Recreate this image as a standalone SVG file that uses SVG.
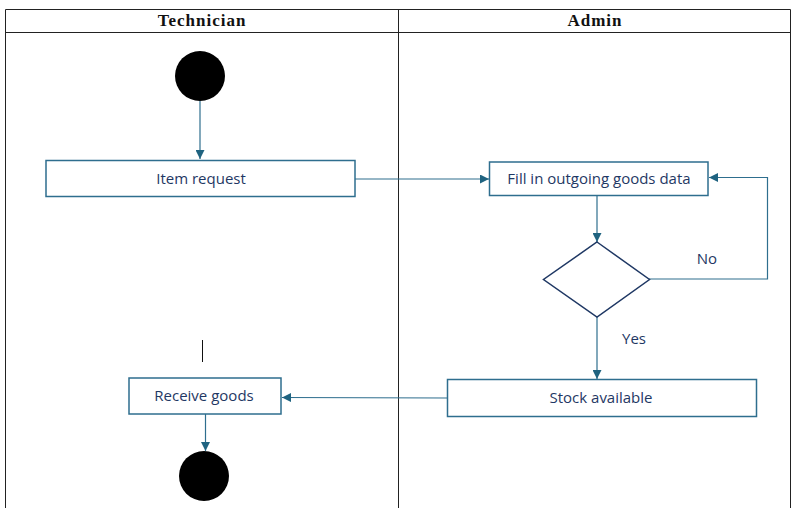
<svg xmlns="http://www.w3.org/2000/svg" width="794" height="508" viewBox="0 0 794 508">
<defs>
<style>
.lane{fill:none;stroke:#222;stroke-width:1}
.hdr{font-family:"Liberation Serif",serif;font-weight:bold;font-size:17px;letter-spacing:1px;fill:#111;text-anchor:middle}
.box{fill:#fff;stroke:#2E6E8E;stroke-width:1.5}
.lbl{font-family:"Open Sans","Noto Sans",sans-serif;font-size:15px;fill:#1F3864;text-anchor:middle}
.con{fill:none;stroke:#2E6E8E;stroke-width:1.2}
.dia{fill:#fff;stroke:#1F3864;stroke-width:1.5}
</style>
<marker id="ah" viewBox="0 0 10 10" refX="10" refY="5" markerWidth="9" markerHeight="9" markerUnits="userSpaceOnUse" orient="auto">
<path d="M0,0 L10,5 L0,10 Z" fill="#1F6380"/>
</marker>
</defs>
<rect width="794" height="508" fill="#fff"/>
<g id="lanes">
<path class="lane" d="M5.5,508 V9.5 H790.5 V508 M5.5,32.5 H790.5 M398.5,9.5 V508"/>
<text class="hdr" x="202" y="26">Technician</text>
<text class="hdr" x="595" y="26">Admin</text>
</g>
<g id="connectors">
<line class="con" x1="200" y1="101" x2="200" y2="159" marker-end="url(#ah)"/>
<line class="con" x1="355" y1="179" x2="489" y2="179" marker-end="url(#ah)"/>
<line class="con" x1="597" y1="196" x2="597" y2="242" marker-end="url(#ah)"/>
<polyline class="con" points="649,279 767.5,279 767.5,177.5 709,177.5" marker-end="url(#ah)"/>
<line class="con" x1="597" y1="317" x2="597" y2="379" marker-end="url(#ah)"/>
<line class="con" x1="447" y1="398" x2="282" y2="397.5" marker-end="url(#ah)"/>
<line class="con" x1="205.5" y1="414" x2="205.5" y2="451" marker-end="url(#ah)"/>
<line x1="202.5" y1="340" x2="202.5" y2="362" stroke="#111" stroke-width="1"/>
<text class="lbl" x="707" y="264">No</text>
<text class="lbl" x="634" y="344">Yes</text>
</g>
<g id="start"><circle cx="200" cy="76" r="25" fill="#000"/></g>
<g id="item-request">
<rect class="box" x="46" y="160.5" width="309" height="36"/>
<text class="lbl" x="201" y="184">Item request</text>
</g>
<g id="fill-data">
<rect class="box" x="489.5" y="162" width="218.5" height="33.5"/>
<text class="lbl" x="599" y="184">Fill in outgoing goods data</text>
</g>
<g id="decision">
<polygon class="dia" points="597,242 649.5,279.5 597,317 543.5,279.5"/>
</g>
<g id="stock-available">
<rect class="box" x="447.5" y="379.5" width="309" height="37"/>
<text class="lbl" x="601" y="403">Stock available</text>
</g>
<g id="receive-goods">
<rect class="box" x="129" y="378" width="152" height="36"/>
<text class="lbl" x="204" y="401">Receive goods</text>
</g>
<g id="end"><circle cx="204" cy="476" r="25" fill="#000"/></g>
</svg>
